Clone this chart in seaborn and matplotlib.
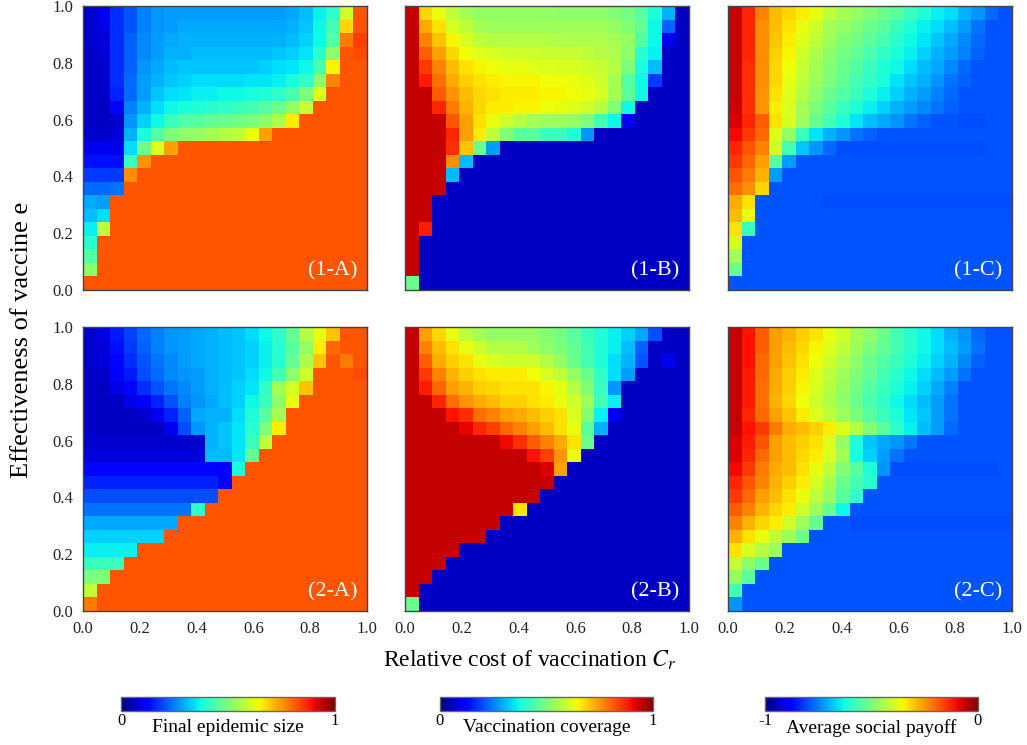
import numpy as np
import seaborn as sns
import matplotlib.pyplot as plt
from matplotlib.cm import ScalarMappable
from matplotlib.colors import Normalize

plt.rcParams['font.family'] = ['Liberation Serif', 'DejaVu Serif']
plt.rcParams['mathtext.fontset'] = 'stix'

# axis ticks (C_r on x, e on y), 21 x 21 grid, first row = e 1.0
tick_vals = ['0.0', '0.2', '0.4', '0.6', '0.8', '1.0']

# (1-A) final epidemic size, in percent
epi1 = [
    [7, 10, 17, 21, 25, 27, 28, 28, 28, 28, 28, 28, 28, 28, 28, 29, 31, 36, 41, 60, 82],
    [7, 9, 17, 21, 25, 27, 28, 29, 29, 29, 29, 29, 29, 29, 29, 30, 32, 37, 43, 68, 82],
    [7, 8, 17, 22, 26, 28, 29, 30, 30, 30, 30, 30, 30, 30, 30, 31, 33, 37, 45, 78, 84],
    [6, 8, 17, 22, 26, 28, 30, 30, 31, 31, 31, 31, 31, 31, 32, 33, 35, 40, 52, 82, 83],
    [6, 7, 17, 22, 27, 29, 31, 32, 32, 32, 32, 32, 32, 33, 34, 35, 37, 44, 65, 82, 82],
    [6, 7, 17, 23, 28, 30, 32, 33, 34, 34, 34, 34, 35, 35, 36, 38, 41, 52, 77, 82, 82],
    [6, 7, 16, 23, 28, 32, 34, 35, 36, 36, 37, 37, 38, 39, 41, 44, 50, 61, 82, 82, 82],
    [6, 6, 13, 25, 30, 34, 37, 38, 39, 40, 41, 42, 43, 45, 48, 53, 59, 82, 82, 82, 82],
    [6, 6, 7, 27, 33, 37, 42, 45, 46, 47, 48, 49, 50, 52, 56, 66, 82, 82, 82, 82, 82],
    [7, 7, 8, 30, 38, 45, 50, 52, 53, 55, 57, 58, 63, 74] + [82] * 7,
    [10, 10, 10, 34, 48, 62, 74] + [82] * 14,
    [14, 14, 14, 42, 75] + [82] * 16,
    [18, 18, 18, 76] + [82] * 17,
    [23, 23, 24] + [82] * 18,
    [29, 28] + [82] * 19,
    [31, 34] + [82] * 19,
    [36, 58] + [82] * 19,
    [40] + [82] * 20,
    [45] + [82] * 20,
    [52] + [82] * 20,
    [82] * 21,
]

# (1-B) vaccination coverage, in percent
vac1 = [
    [94, 68, 63, 58, 55, 53, 53, 53, 53, 53, 53, 52, 52, 52, 52, 51, 49, 46, 39, 30, 6],
    [94, 73, 67, 61, 58, 55, 54, 54, 54, 54, 54, 54, 54, 54, 54, 53, 51, 47, 37, 22, 6],
    [94, 77, 70, 65, 61, 58, 57, 57, 57, 57, 57, 56, 56, 56, 56, 55, 53, 45, 37, 10, 6],
    [94, 81, 74, 68, 64, 62, 61, 60, 60, 60, 59, 59, 59, 58, 57, 56, 52, 40, 36, 6, 6],
    [94, 85, 77, 71, 67, 65, 64, 63, 63, 62, 62, 61, 61, 60, 59, 57, 50, 38, 31, 6, 6],
    [94, 88, 79, 73, 69, 67, 66, 65, 65, 65, 64, 64, 63, 62, 60, 55, 45, 37, 18, 6, 6],
    [94, 94, 81, 75, 71, 68, 67, 66, 66, 66, 65, 65, 64, 63, 61, 55, 46, 37, 6, 6, 6],
    [94, 94, 87, 78, 72, 68, 66, 66, 65, 65, 64, 63, 62, 60, 57, 51, 37, 6, 6, 6, 6],
    [94, 94, 94, 82, 74, 67, 63, 60, 57, 55, 54, 54, 53, 50, 43, 37, 10, 6, 6, 6, 6],
    [94, 94, 94, 87, 74, 66, 58, 51, 46, 46, 42, 42, 39, 27] + [6] * 7,
    [94, 94, 94, 86, 70, 48, 28] + [6] * 14,
    [94, 94, 94, 76, 31] + [6] * 16,
    [94, 94, 94, 31] + [6] * 17,
    [94, 94, 94] + [6] * 18,
    [94, 94] + [6] * 19,
    [94, 94] + [6] * 19,
    [94, 88] + [6] * 19,
    [94] + [6] * 20,
    [94] + [6] * 20,
    [94] + [6] * 20,
    [48] + [6] * 20,
]

# (1-C) average social payoff, shifted by +1, in percent
pay1 = [
    [94, 87, 77, 71, 68, 66, 63, 58, 55, 53, 51, 48, 46, 42, 39, 36, 34, 30, 27, 23, 21],
    [94, 87, 76, 71, 67, 63, 60, 55, 53, 51, 48, 46, 42, 39, 36, 34, 31, 28, 24, 21, 21],
    [94, 87, 76, 70, 66, 62, 58, 54, 51, 49, 46, 43, 40, 37, 35, 32, 29, 26, 23, 21, 21],
    [94, 87, 76, 69, 65, 60, 56, 52, 49, 47, 44, 41, 38, 36, 33, 30, 28, 25, 22, 21, 21],
    [94, 86, 76, 68, 64, 59, 55, 51, 48, 45, 42, 39, 37, 34, 31, 29, 26, 23, 21, 21, 21],
    [94, 86, 76, 68, 63, 58, 54, 50, 47, 43, 41, 38, 35, 32, 30, 27, 24, 22, 21, 21, 21],
    [94, 86, 75, 67, 62, 57, 52, 48, 45, 42, 39, 36, 33, 30, 28, 25, 23, 21, 21, 21, 21],
    [93, 86, 75, 66, 61, 55, 50, 46, 42, 39, 36, 33, 30, 28, 26, 24, 22, 21, 21, 21, 21],
    [92, 87, 81, 67, 61, 54, 48, 43, 39, 35, 31, 29, 27, 24, 22, 21, 21, 20, 20, 21, 21],
    [90, 85, 80, 62, 53, 42, 35, 30, 27, 24, 22] + [21] * 10,
    [87, 82, 77, 60, 43, 32, 27, 23, 20] + [20] * 9 + [20, 21, 21],
    [85, 80, 74, 46, 28] + [21] * 16,
    [82, 78, 72, 28] + [21] * 17,
    [79, 76, 68] + [21] * 18,
    [73, 67] + [21] * 5 + [20] * 14,
    [71, 63] + [21] * 19,
    [67, 42] + [21] * 19,
    [61] + [21] * 20,
    [55] + [21] * 20,
    [48] + [21] * 20,
    [21] * 21,
]

# (2-A) final epidemic size, in percent
epi2 = [
    [7, 9, 15, 19, 23, 25, 27, 28, 29, 30, 31, 32, 34, 37, 41, 47, 57, 63, 70, 82, 82],
    [7, 8, 14, 18, 22, 25, 27, 28, 29, 30, 31, 32, 33, 36, 40, 46, 53, 66, 80, 82, 82],
    [7, 8, 13, 17, 21, 24, 26, 28, 29, 30, 31, 32, 33, 36, 40, 47, 56, 70, 82, 78, 82],
    [6, 7, 11, 15, 20, 23, 26, 27, 28, 30, 31, 32, 34, 37, 43, 52, 60, 82, 82, 82, 83],
    [6, 6, 9, 13, 17, 21, 24, 26, 28, 30, 31, 33, 35, 41, 55, 61, 70, 82, 82, 82, 82],
    [6, 6, 6, 9, 12, 16, 21, 25, 27, 29, 31, 33, 37, 42, 52, 63, 82, 82, 82, 82, 82],
    [6, 6, 6, 6, 7, 10, 16, 22, 29, 30, 30, 34, 39, 46, 55] + [82] * 6,
    [6, 6, 6, 6, 6, 6, 10, 20, 27, 30, 32, 35, 40, 50, 66] + [82] * 6,
    [7] * 9 + [30, 32, 35, 42, 58] + [82] * 7,
    [8] * 9 + [31, 31, 35, 47] + [82] * 8,
    [13] * 10 + [11, 38] + [82] * 9,
    [16] * 10 + [11] + [82] * 10,
    [20] * 10 + [82] * 11,
    [24] * 8 + [41] + [82] * 12,
    [29] * 7 + [82] * 14,
    [33] * 6 + [82] * 15,
    [36] * 4 + [82] * 17,
    [42] * 3 + [82] * 18,
    [50] * 2 + [82] * 19,
    [58] + [82] * 20,
    [78] + [82] * 20,
]

# (2-B) vaccination coverage, in percent
vac2 = [
    [94, 74, 68, 63, 58, 55, 53, 53, 53, 53, 51, 49, 46, 42, 39, 36, 33, 29, 20, 6, 6],
    [94, 77, 71, 67, 63, 60, 57, 57, 57, 54, 52, 50, 47, 43, 39, 36, 31, 22, 6, 6, 6],
    [94, 81, 73, 69, 67, 63, 61, 60, 60, 60, 57, 53, 48, 43, 39, 34, 30, 21, 6, 10, 6],
    [94, 85, 77, 72, 69, 67, 66, 66, 66, 64, 61, 58, 53, 48, 41, 34, 28, 6, 6, 6, 6],
    [94, 88, 80, 74, 72, 69, 68, 67, 67, 67, 65, 63, 57, 51, 42, 27, 6, 6, 6, 6, 6],
    [94, 94, 87, 79, 75, 73, 71, 69, 69, 67, 66, 63, 60, 54, 43, 36, 6, 6, 6, 6, 6],
    [94, 94, 94, 89, 86, 79, 77, 74, 73, 71, 69, 67, 61, 51, 36, 10, 6, 6, 6, 6, 6],
    [94, 94, 94, 94, 91, 87, 84, 80, 77, 74, 71, 67, 63, 46, 30, 6, 6, 6, 6, 6, 6],
    [94, 94, 94, 94, 94, 94, 94, 90, 86, 81, 77, 73, 67, 48] + [6] * 7,
    [94] * 9 + [89, 84, 75, 63] + [6] * 8,
    [94] * 10 + [92, 74] + [6] * 9,
    [94] * 11 + [6] * 10,
    [94] * 10 + [6] * 11,
    [94] * 8 + [67] + [6] * 12,
    [94] * 7 + [6] * 14,
    [94] * 6 + [6] * 15,
    [94] * 4 + [6] * 17,
    [94] * 3 + [6] * 18,
    [94] * 2 + [6] * 19,
    [94] + [6] * 20,
    [48] + [6] * 20,
]

# (2-C) average social payoff, shifted by +1, in percent
pay2 = [
    [94, 89, 81, 74, 72, 69, 67, 63, 60, 55, 52, 48, 43, 40, 37, 34, 30, 27, 23, 21, 21],
    [94, 89, 81, 74, 71, 68, 65, 62, 58, 54, 50, 47, 43, 40, 37, 34, 31, 28, 24, 21, 21],
    [94, 89, 80, 74, 70, 67, 64, 60, 56, 52, 48, 45, 42, 39, 36, 33, 30, 26, 22, 21, 21],
    [94, 88, 80, 73, 69, 66, 62, 58, 54, 50, 47, 43, 40, 37, 34, 31, 28, 24, 21, 21, 21],
    [94, 88, 79, 73, 69, 65, 61, 57, 53, 49, 45, 42, 39, 36, 33, 29, 25, 21, 21, 21, 21],
    [94, 88, 79, 72, 68, 64, 60, 56, 52, 48, 44, 41, 37, 34, 31, 28, 24, 21, 21, 21, 21],
    [94, 87, 80, 74, 70, 66, 62, 58, 54, 50, 46, 42, 39, 35, 32, 28, 24, 21, 21, 21, 21],
    [94, 89, 85, 78, 73, 71, 69, 66, 61, 57, 51, 46, 41, 36, 31, 28, 23, 21, 21, 21, 21],
    [92, 88, 82, 74, 71, 69, 67, 62, 53, 39, 32, 29, 27, 24] + [21] * 7,
    [92, 87, 80, 74, 71, 68, 66, 61, 55, 38, 33, 28, 24] + [21] * 8,
    [90, 85, 78, 73, 71, 67, 63, 58, 51, 46, 39, 27, 20] + [20] * 6 + [20, 21],
    [87, 82, 77, 72, 69, 66, 61, 55, 48, 43, 40] + [21] * 10,
    [85, 80, 74, 71, 67, 63, 58, 53, 46, 41] + [21] * 11,
    [81, 77, 72, 68, 66, 60, 54, 48, 37] + [21] * 12,
    [77, 72, 68, 66, 60, 54, 47] + [21] * 2 + [20] * 12,
    [72, 67, 63, 58, 54, 48] + [21] * 15,
    [67, 61, 57, 54] + [21] * 17,
    [58, 52, 48] + [21] * 18,
    [53, 46] + [21] * 19,
    [43] + [21] * 20,
    [27] + [21] * 20,
]

panels = [
    ('(1-A)', np.array(epi1) / 100, 0, 1),
    ('(1-B)', np.array(vac1) / 100, 0, 1),
    ('(1-C)', np.array(pay1) / 100 - 1, -1, 0),
    ('(2-A)', np.array(epi2) / 100, 0, 1),
    ('(2-B)', np.array(vac2) / 100, 0, 1),
    ('(2-C)', np.array(pay2) / 100 - 1, -1, 0),
]

W, H = 1027, 745
fig = plt.figure(figsize=(W / 100, H / 100), dpi=100)


def box(x0, y0, x1, y1):
    return [x0 / W, 1 - y1 / H, (x1 - x0) / W, (y1 - y0) / H]


lefts = [83, 405, 728]
tops = [6, 327]
size = 284
n = 21
ticks = np.linspace(0, n, 6)

for i, (tag, data, lo, hi) in enumerate(panels):
    r, c = divmod(i, 3)
    ax = fig.add_axes(box(lefts[c], tops[r], lefts[c] + size, tops[r] + size))
    sns.heatmap(data, ax=ax, cmap='jet', vmin=lo, vmax=hi, cbar=False,
                xticklabels=False, yticklabels=False)
    for s in ax.spines.values():
        s.set_visible(True)
        s.set_color('#444444')
        s.set_linewidth(1.0)
    ax.set_xticks(ticks)
    ax.set_yticks(ticks)
    if r == 1:
        ax.set_xticklabels(tick_vals, fontsize=12, color='#222222')
    else:
        ax.set_xticklabels([])
    if c == 0:
        ax.set_yticklabels(tick_vals[::-1], fontsize=12, color='#222222', rotation=0)
    else:
        ax.set_yticklabels([])
    ax.tick_params(length=0, pad=7)
    ax.text(0.965, 0.035, tag, transform=ax.transAxes, ha='right', va='bottom',
            color='white', fontsize=16)

fig.text(22 / W, 1 - 340 / H, 'Effectiveness of vaccine e', rotation=90,
         ha='center', va='center', fontsize=19)
fig.text(530 / W, 1 - 660 / H, r'Relative cost of vaccination $C_r$',
         ha='center', va='center', fontsize=17)

# colorbars along the bottom
bars = [
    (121, 335, 'Final epidemic size', '0', '1', 0, 1),
    (440, 653, 'Vaccination coverage', '0', '1', 0, 1),
    (765, 978, 'Average social payoff', '-1', '0', -1, 0),
]
for x0, x1, label, lo_txt, hi_txt, lo, hi in bars:
    cax = fig.add_axes(box(x0, 697, x1, 711))
    cb = fig.colorbar(ScalarMappable(norm=Normalize(lo, hi), cmap='jet'),
                      cax=cax, orientation='horizontal')
    cb.set_ticks([])
    cb.outline.set_edgecolor('#666666')
    cb.outline.set_linewidth(1.0)
    fig.text(x0 / W, 1 - 713 / H, lo_txt, ha='center', va='top', fontsize=12)
    fig.text(x1 / W, 1 - 713 / H, hi_txt, ha='center', va='top', fontsize=12)
    fig.text((x0 + x1) / 2 / W, 1 - 719 / H, label, ha='center', va='top', fontsize=14)

fig.savefig('out.png', dpi=100)
